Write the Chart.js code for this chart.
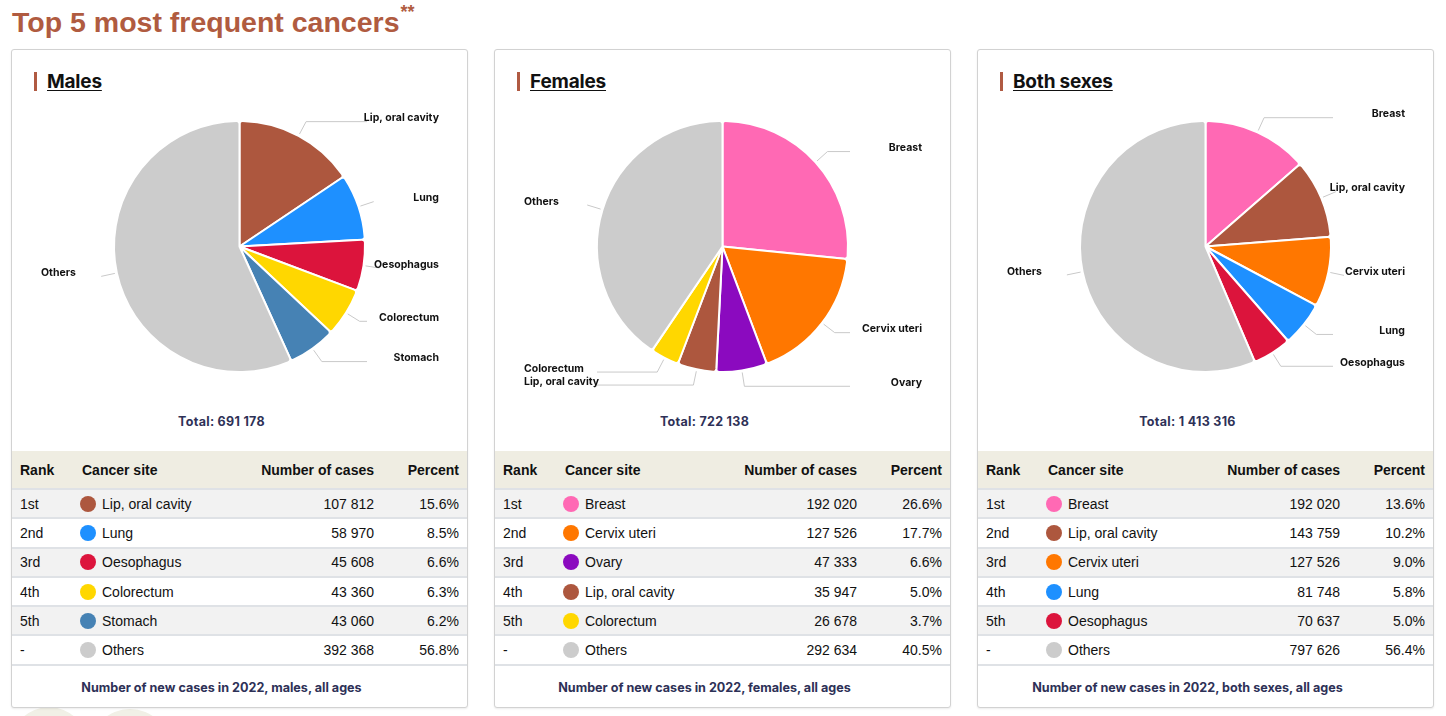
<!DOCTYPE html>
<html>
<head>
<meta charset="utf-8">
<script src="https://cdn.jsdelivr.net/npm/chart.js@4.4.0/dist/chart.umd.min.js"></script>
<style>
  html, body { margin: 0; padding: 0; background: #fff; }
  body { width: 1446px; height: 716px; position: relative; overflow: hidden; font-family: "Liberation Sans", Arial, sans-serif; }
  .title { position: absolute; left: 12px; top: 5px; font: 700 28.5px "Liberation Sans", Arial, sans-serif; color: #b05b40; white-space: nowrap; }
  .title sup { font-size: 18px; position: relative; top: -3px; margin-left: 1px; }
  .deco { position: absolute; border-radius: 50%; background: #f1f0e6; }
  .panel { position: absolute; top: 49px; width: 455px; height: 657px; border: 1px solid #d2d2d2; border-radius: 3px; background: #fff; box-shadow: 0 1px 2px rgba(0,0,0,0.08); }
  .panel h3 { position: absolute; left: 22px; top: 22px; margin: 0; height: 19px; border-left: 3px solid #b05a42; padding-left: 10px;
    font: 700 19px Inter, sans-serif; line-height: 19px; color: #111; text-decoration: underline; text-underline-offset: 2px; letter-spacing: -0.2px; }
  .panel canvas { position: absolute; left: 0; top: 50px; }
  .total { position: absolute; left: 0; width: 419px; top: 364px; text-align: center; font: 700 12.5px Inter, sans-serif; color: #2e3157; letter-spacing: 0.3px; }
  .tbl { position: absolute; left: 0; top: 401px; width: 455px; }
  .row { position: relative; height: 27.3px; border-top: 2px solid #dfe2e6; font-size: 14px; color: #111; }
  .row.head { height: 37px; border-top: none; background: #efede2; font-weight: 700; }
  .row.odd { background: #f2f2f2; }
  .row.last { border-bottom: 2px solid #dfe2e6; }
  .row span { position: absolute; top: 50%; transform: translateY(-50%); white-space: nowrap; }
  .c-rank { left: 8px; }
  .c-dot { left: 68px; width: 16px; height: 16px; border-radius: 50%; }
  .c-site { left: 90px; }
  .head .c-site { left: 70px; }
  .c-cases { right: 93px; }
  .c-pct { right: 8px; }
  .foot { position: absolute; left: 0; width: 419px; top: 630px; text-align: center; font: 700 12.6px Inter, sans-serif; color: #2e3157; }
</style>
</head>
<body>
<div class="title">Top 5 most frequent cancers<sup>**</sup></div>
<div class="deco" style="left:11px;top:707px;width:76px;height:76px;"></div>
<div class="deco" style="left:90px;top:709px;width:80px;height:80px;"></div>
<div id="panels"></div>
<script>
const ranks = ['1st', '2nd', '3rd', '4th', '5th', '-'];

const malesSites = ['Lip, oral cavity', 'Lung', 'Oesophagus', 'Colorectum', 'Stomach', 'Others'];
const malesCases = [107812, 58970, 45608, 43360, 43060, 392368];
const malesPercent = ['15.6%', '8.5%', '6.6%', '6.3%', '6.2%', '56.8%'];

const femalesSites = ['Breast', 'Cervix uteri', 'Ovary', 'Lip, oral cavity', 'Colorectum', 'Others'];
const femalesCases = [192020, 127526, 47333, 35947, 26678, 292634];
const femalesPercent = ['26.6%', '17.7%', '6.6%', '5.0%', '3.7%', '40.5%'];

const bothSites = ['Breast', 'Lip, oral cavity', 'Cervix uteri', 'Lung', 'Oesophagus', 'Others'];
const bothCases = [192020, 143759, 127526, 81748, 70637, 797626];
const bothPercent = ['13.6%', '10.2%', '9.0%', '5.8%', '5.0%', '56.4%'];

const siteColors = {
  'Lip, oral cavity': '#ad573e',
  'Lung': '#1e90ff',
  'Oesophagus': '#dc143c',
  'Colorectum': '#ffd700',
  'Stomach': '#4682b4',
  'Breast': '#ff69b4',
  'Cervix uteri': '#ff7700',
  'Ovary': '#8b0abf',
  'Others': '#cccccc'
};

const panels = [
  { name: 'Males', left: 11, sites: malesSites, cases: malesCases, pct: malesPercent, foot: 'males' },
  { name: 'Females', left: 494, sites: femalesSites, cases: femalesCases, pct: femalesPercent, foot: 'females' },
  { name: 'Both sexes', left: 977, sites: bothSites, cases: bothCases, pct: bothPercent, foot: 'both sexes' }
];

function fmt(n) {
  return String(n).replace(/\B(?=(\d{3})+(?!\d))/g, ' ');
}

// labels outside the pie with crooked leader lines
const outLabels = {
  id: 'outLabels',
  afterDatasetsDraw(chart) {
    const ctx = chart.ctx;
    const meta = chart.getDatasetMeta(0);
    const labels = chart.data.labels;
    const items = meta.data.map((arc, i) => {
      const p = arc.getProps(['x', 'y', 'startAngle', 'endAngle', 'outerRadius'], true);
      const a = (p.startAngle + p.endAngle) / 2;
      return { i, a, cx: p.x, cy: p.y, r: p.outerRadius, right: Math.cos(a) >= 0, y: p.y + Math.sin(a) * (p.outerRadius + 16) };
    });
    [true, false].forEach(side => {
      const group = items.filter(o => o.right === side).sort((a, b) => a.y - b.y);
      for (let k = 1; k < group.length; k++) {
        if (group[k].y - group[k - 1].y < 13) group[k].y = group[k - 1].y + 13;
      }
    });
    ctx.save();
    ctx.font = '700 10.5px Inter';
    ctx.textBaseline = 'middle';
    ctx.fillStyle = '#111';
    ctx.strokeStyle = '#c9c9c9';
    ctx.lineWidth = 1;
    items.forEach(o => {
      const cos = Math.cos(o.a), sin = Math.sin(o.a);
      const x0 = o.cx + cos * (o.r + 2), y0 = o.cy + sin * (o.r + 2);
      let t = Math.abs(sin) > 0.05 ? (o.y - y0) / sin : 4;
      t = Math.max(4, Math.min(20, t));
      const x1 = x0 + cos * t;
      const lineEnd = o.right ? 355 : 102;
      ctx.beginPath();
      ctx.moveTo(x0, y0);
      ctx.lineTo(x1, o.y);
      if (o.right ? x1 < lineEnd : x1 > lineEnd) ctx.lineTo(lineEnd, o.y);
      ctx.stroke();
      ctx.textAlign = o.right ? 'right' : 'left';
      ctx.fillText(labels[o.i], o.right ? 427 : 29, o.y - 3.5);
    });
    ctx.restore();
  }
};

const holder = document.getElementById('panels');

panels.forEach((p, idx) => {
  const el = document.createElement('div');
  el.className = 'panel';
  el.style.left = p.left + 'px';
  const total = p.cases.reduce((s, v) => s + v, 0);

  let rows = '<div class="row head"><span class="c-rank">Rank</span><span class="c-site">Cancer site</span>' +
    '<span class="c-cases">Number of cases</span><span class="c-pct">Percent</span></div>';
  p.sites.forEach((s, i) => {
    rows += '<div class="row' + (i % 2 === 0 ? ' odd' : '') + (i === p.sites.length - 1 ? ' last' : '') + '">' +
      '<span class="c-rank">' + ranks[i] + '</span>' +
      '<span class="c-dot" style="background:' + siteColors[s] + '"></span>' +
      '<span class="c-site">' + s + '</span>' +
      '<span class="c-cases">' + fmt(p.cases[i]) + '</span>' +
      '<span class="c-pct">' + p.pct[i] + '</span></div>';
  });

  el.innerHTML = '<h3>' + p.name + '</h3>' +
    '<canvas id="pie' + idx + '" width="455" height="300"></canvas>' +
    '<div class="total">Total: ' + fmt(total) + '</div>' +
    '<div class="tbl">' + rows + '</div>' +
    '<div class="foot">Number of new cases in 2022, ' + p.foot + ', all ages</div>';
  holder.appendChild(el);

  new Chart(document.getElementById('pie' + idx), {
    type: 'pie',
    data: {
      labels: p.sites,
      datasets: [{
        data: p.cases,
        backgroundColor: p.sites.map(s => siteColors[s]),
        borderColor: '#ffffff',
        borderWidth: 2,
        borderRadius: 3
      }]
    },
    options: {
      responsive: false,
      animation: false,
      events: [],
      layout: { padding: { top: 20, bottom: 27 } },
      plugins: { legend: { display: false }, tooltip: { enabled: false } }
    },
    plugins: [outLabels]
  });
});
</script>
</body>
</html>
